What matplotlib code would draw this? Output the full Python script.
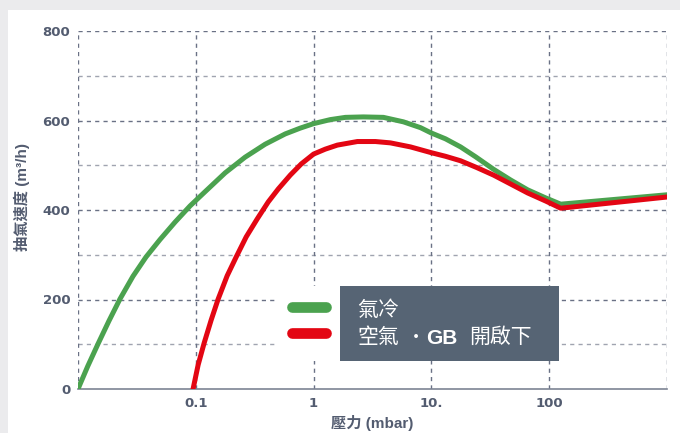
import numpy as np
import matplotlib
matplotlib.use("Agg")
import matplotlib.pyplot as plt
from matplotlib.patches import Rectangle
from matplotlib.lines import Line2D

# pressure (mbar) / pumping speed (m3/h)
p_air = [0.01, 0.0121, 0.0148, 0.0183, 0.0227, 0.0293, 0.0378, 0.0497, 0.0667,
         0.0893, 0.12, 0.1775, 0.262, 0.388, 0.574, 0.771, 1.0, 1.387, 1.862,
         2.646, 3.914, 5.79, 8.08, 10.0, 13.18, 17.68, 23.7, 33.7, 47.1, 65.7,
         93.4, 125.3, 1000]
s_air = [0, 51, 101, 152, 201, 252, 295, 334, 373,
         409, 441, 483, 518, 547, 570, 583, 593, 602, 607,
         608, 607, 597, 584, 572, 559, 541, 519, 491, 467, 445,
         427, 413, 434]

p_gb = [0.0948, 0.1047, 0.1178, 0.135, 0.1548, 0.1846, 0.2202, 0.2679, 0.3321,
        0.4119, 0.5012, 0.634, 0.786, 1.0, 1.257, 1.59, 2.353, 3.35, 4.488,
        6.64, 10.0, 13.18, 17.68, 24.2, 33.7, 47.1, 65.7, 93.4, 125.3, 1000]
s_gb = [0, 54, 103, 154, 201, 253, 295, 340, 380,
        418, 447, 478, 503, 525, 536, 545, 553, 553, 550,
        541, 528, 520, 510, 495, 478, 458, 438, 420, 404, 429]

xticks = [0.1, 1, 10, 100]
xtick_labels = ["0.1", "1", "10.", "100"]
yticks = [0, 200, 400, 600, 800]

GREEN = "#4ba24f"
RED = "#e30613"
TXT = "#535c70"
BOX = "#566474"

W, H = 680, 433


def px(x, y):
    # pixel position -> figure fraction
    return x / W, 1 - y / H


fig = plt.figure(figsize=(6.8, 4.33), dpi=100)
fig.patch.set_facecolor("#ebebed")
fig.add_artist(Rectangle(px(8, 433), 1, (433 - 10) / H, transform=fig.transFigure,
                         facecolor="white", edgecolor="none", zorder=0))

ax = fig.add_axes([78 / W, 1 - 389 / H, 589 / W, 358 / H])
ax.set_facecolor("none")
ax.set_xscale("log")
ax.set_xlim(0.01, 1000)
ax.set_ylim(0, 800)

# grid
for yv in range(100, 801, 100):
    c = "#6a7185" if yv % 200 == 0 else "#a0a4b0"
    ax.axhline(yv, color=c, lw=1, ls=(0, (3, 3)), zorder=1)
for xv in [0.01, 0.1, 1, 10, 100, 1000]:
    ax.axvline(xv, color="#6a7185", lw=1, ls=(0, (3, 3)), zorder=1)

for s in ["top", "right", "left"]:
    ax.spines[s].set_visible(False)
ax.spines["bottom"].set_color("#7d8494")
ax.spines["bottom"].set_linewidth(1.2)

ax.plot(p_air, s_air, color=GREEN, lw=3.6, solid_capstyle="round",
        solid_joinstyle="round", zorder=3)
ax.plot(p_gb, s_gb, color=RED, lw=3.6, solid_capstyle="round",
        solid_joinstyle="round", zorder=4)

ax.set_xticks(xticks)
ax.set_xticklabels(xtick_labels)
ax.xaxis.set_minor_locator(matplotlib.ticker.NullLocator())
ax.set_yticks(yticks)
ax.tick_params(length=0, labelsize=9.5, labelcolor=TXT, pad=5.5)
for lab in ax.get_xticklabels() + ax.get_yticklabels():
    lab.set_fontweight("bold")
    lab.set_family("DejaVu Sans")

lab_font = ["Liberation Sans", "Noto Sans CJK TC"]
fig.text(*px(372, 423), "壓力 (mbar)", ha="center", va="center", fontsize=11,
         fontweight="bold", color=TXT, family=lab_font)
fig.text(*px(22, 197), "抽氣速度 (m³/h)", ha="center", va="center", fontsize=11,
         fontweight="bold", color=TXT, family=lab_font, rotation=90)

# legend
fig.add_artist(Rectangle(px(277, 361), 63 / W, 75 / H, transform=fig.transFigure,
                         facecolor="white", edgecolor="none", zorder=5))
fig.add_artist(Rectangle(px(340, 361), 219 / W, 75 / H, transform=fig.transFigure,
                         facecolor=BOX, edgecolor="none", zorder=5))
for yy, c in [(307, GREEN), (333, RED)]:
    x0, y0 = px(292, yy)
    x1, _ = px(326, yy)
    fig.add_artist(Line2D([x0, x1], [y0, y0], transform=fig.transFigure, color=c,
                          lw=7.7, solid_capstyle="round", zorder=6))

cjk = ["Noto Sans CJK TC", "DejaVu Sans"]
fig.text(*px(357, 310), "氣冷", ha="left", va="center", fontsize=15, color="white",
         family=cjk, zorder=7)
fig.text(*px(357, 337), "空氣", ha="left", va="center", fontsize=15, color="white",
         family=cjk, zorder=7)
fig.text(*px(416, 338), "·", ha="center", va="center", fontsize=13, color="white",
         family=cjk, zorder=7)
fig.text(*px(426, 338), "GB", ha="left", va="center", fontsize=15, color="white",
         fontweight="bold", family=["Liberation Sans", "DejaVu Sans"], zorder=7)
fig.text(*px(469, 337), "開啟下", ha="left", va="center", fontsize=15, color="white",
         family=cjk, zorder=7)

fig.savefig("out.png", dpi=100, facecolor=fig.get_facecolor())
